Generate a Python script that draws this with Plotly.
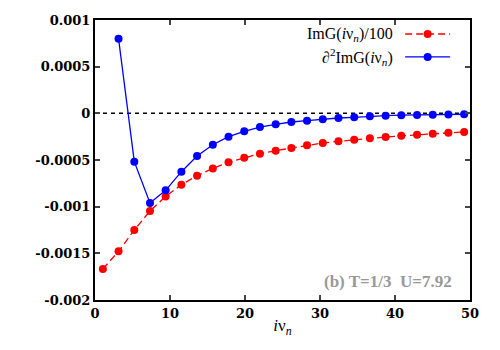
import plotly.graph_objects as go

# Matsubara frequencies (T=1/3)
nu = [1.05, 3.14, 5.24, 7.33, 9.42, 11.52, 13.61, 15.71, 17.80, 19.90, 21.99, 24.09,
      26.18, 28.27, 30.37, 32.46, 34.56, 36.65, 38.75, 40.84, 42.94, 45.03, 47.12, 49.22]

img_over_100 = [-0.001668, -0.001479, -0.00125, -0.001047, -0.00089, -0.000765, -0.000668,
                -0.00059, -0.000525, -0.000475, -0.000432, -0.0004, -0.000372, -0.000343,
                -0.000318, -0.0003, -0.000283, -0.000268, -0.000254, -0.000241, -0.000229,
                -0.000218, -0.000208, -0.000199]

# second derivative starts at the 2nd frequency
nu_d2 = nu[1:]
d2_img = [0.0008, -0.000518, -0.000961, -0.000825, -0.000625, -0.000457, -0.000336,
          -0.00025, -0.000193, -0.000147, -0.000118, -0.000093, -0.000079, -0.000064,
          -0.00005, -0.000043, -0.000032, -0.000025, -0.00002, -0.000018, -0.000015,
          -0.000012, -0.00001]

xticks = [0, 10, 20, 30, 40, 50]
yticks = [0.001, 0.0005, 0, -0.0005, -0.001, -0.0015, -0.002]
yticklabels = ['0.001', '0.0005', '0', '-0.0005', '-0.001', '-0.0015', '-0.002']

serif = "Liberation Serif"
tickserif = "DejaVu Serif"

fig = go.Figure()
fig.add_trace(go.Scatter(x=nu, y=img_over_100, mode='lines+markers',
                         line=dict(color='red', width=1.3, dash='7px,4px'),
                         marker=dict(color='red', size=8), showlegend=False))
fig.add_trace(go.Scatter(x=nu_d2, y=d2_img, mode='lines+markers',
                         line=dict(color='blue', width=1.3),
                         marker=dict(color='blue', size=8), showlegend=False))

# zero line
fig.add_shape(type='line', x0=0, x1=50, y0=0, y1=0, xref='x', yref='y',
              line=dict(color='black', width=1.5, dash='4px,4px'), layer='below')

# hand-made legend (text left, sample right like gnuplot)
leg = [("ImG(<i>i</i>ν<sub><i>n</i></sub>)/100", 'red', '7px,4px', 0.95),
       ("∂<sup>2</sup>ImG(<i>i</i>ν<sub><i>n</i></sub>)", 'blue', 'solid', 0.868)]
for txt, col, dash, yy in leg:
    fig.add_annotation(x=0.80, y=yy, xref='paper', yref='paper', text=txt, showarrow=False,
                       xanchor='right', yanchor='middle',
                       font=dict(family=serif, size=16, color='black'))
    fig.add_shape(type='line', x0=0.827, x1=0.947, y0=yy, y1=yy, xref='paper', yref='paper',
                  line=dict(color=col, width=1.3, dash=dash))
    fig.add_shape(type='circle', xref='paper', yref='paper', xsizemode='pixel', ysizemode='pixel',
                  xanchor=0.887, yanchor=yy, x0=-4, x1=4, y0=-4, y1=4,
                  fillcolor=col, line=dict(color=col, width=0))

fig.add_annotation(x=0.957, y=0.065, xref='paper', yref='paper', text="(b) T=1/3&nbsp;&nbsp;U=7.92",
                   showarrow=False, xanchor='right', yanchor='middle',
                   font=dict(family=serif, size=17, color='#999999', weight='bold'))

fig.update_xaxes(range=[0, 50], tickvals=xticks, ticks='inside', ticklen=5, tickwidth=1.5,
                 showline=True, linecolor='black', linewidth=2, mirror='ticks', showgrid=False,
                 zeroline=False, automargin=False,
                 tickfont=dict(family=tickserif, size=13, color='black', weight='bold'),
                 title=dict(text="<i>i</i>ν<sub><i>n</i></sub>", standoff=0,
                            font=dict(family=serif, size=17, color='black')))
fig.update_yaxes(range=[-0.002, 0.001], tickvals=yticks, ticktext=yticklabels, ticks='inside',
                 ticklen=5, tickwidth=1.5, showline=True, linecolor='black', linewidth=2,
                 mirror='ticks', showgrid=False, zeroline=False, automargin=False,
                 tickfont=dict(family=tickserif, size=13, color='black', weight='bold'))

# page has an 8px body margin, so the figure is shrunk and shifted to compensate
fig.update_layout(width=492, height=342, margin=dict(l=87, r=30, t=12, b=50),
                  plot_bgcolor='white', paper_bgcolor='white')
fig.write_html("out.html")
